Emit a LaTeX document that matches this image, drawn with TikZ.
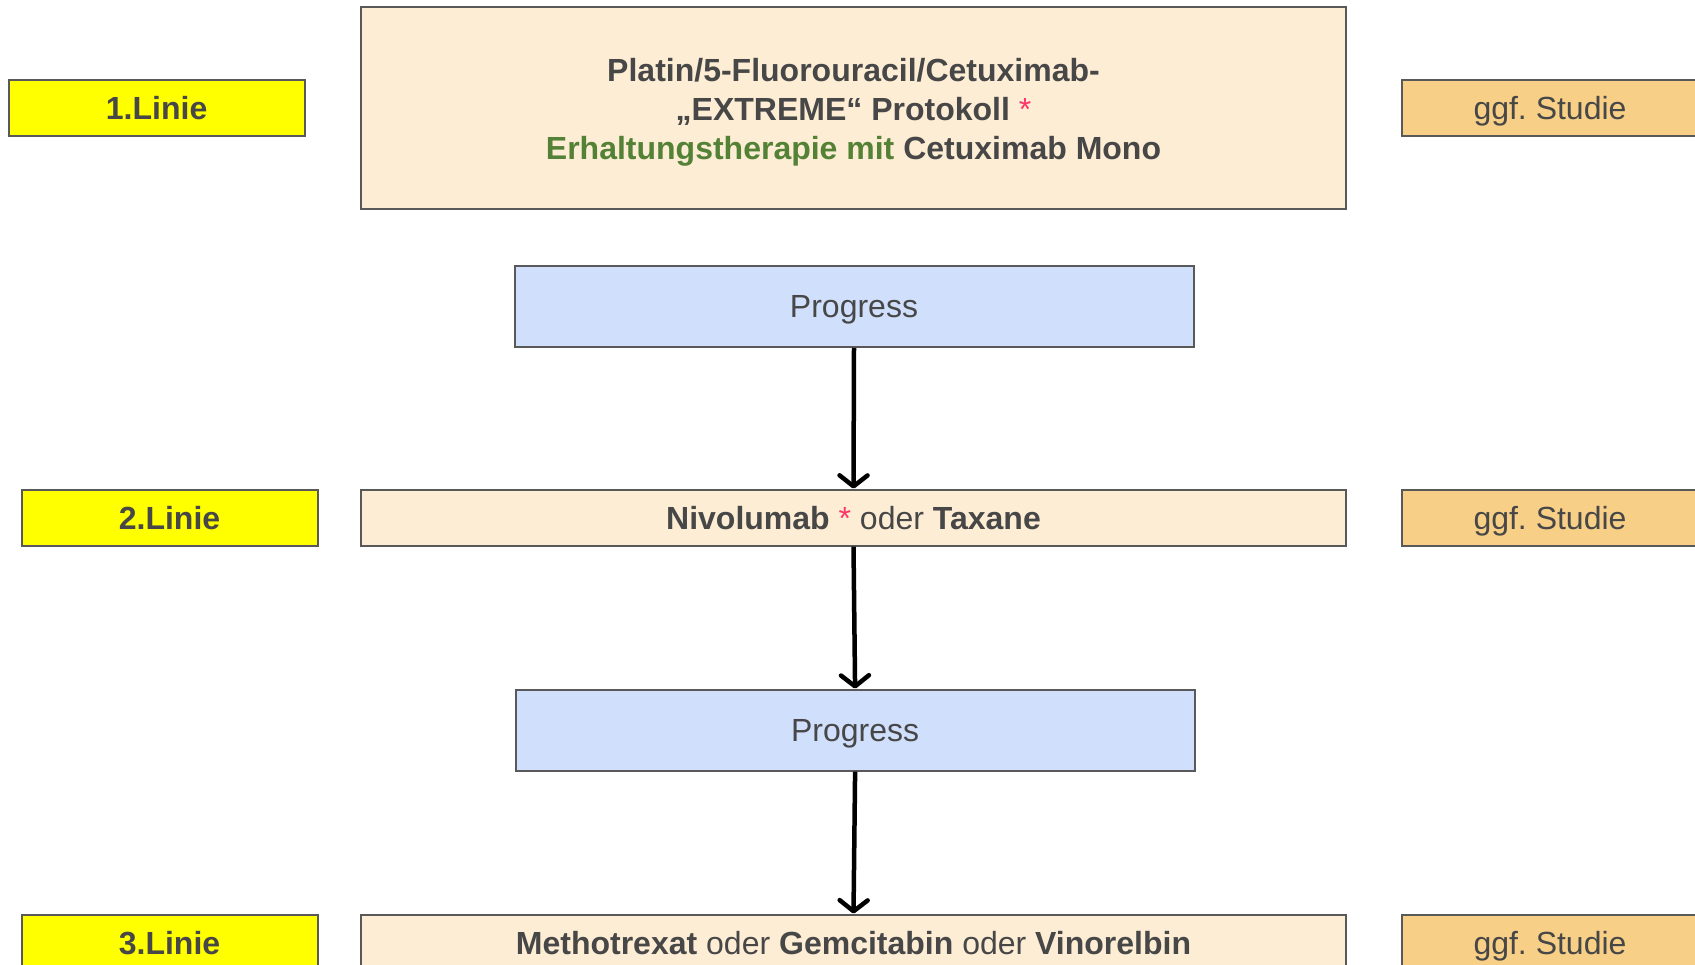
\documentclass[tikz,border=0pt]{standalone}
\usepackage{fontspec}
\setmainfont{Liberation Sans}
\usetikzlibrary{arrows.meta}
\frenchspacing
\definecolor{txt}{HTML}{474747}
\definecolor{bordc}{HTML}{595959}
\definecolor{yel}{HTML}{FFFF00}
\definecolor{cream}{HTML}{FDEDD5}
\definecolor{blueb}{HTML}{CFDFFC}
\definecolor{orng}{HTML}{F8CF86}
\definecolor{grn}{HTML}{538135}
\definecolor{ast}{HTML}{FF3366}
\tikzset{
  box/.style={draw=bordc, line width=2pt, anchor=north west, inner sep=0pt,
    text=txt, align=center, text depth=0pt, font=\fontsize{32}{39}\selectfont},
  linie/.style={box, fill=yel, minimum width=296pt, minimum height=56pt, font=\fontsize{32}{39}\selectfont\bfseries},
  studie/.style={box, fill=orng, minimum width=296pt, minimum height=56pt},
  therapy/.style={box, fill=cream, minimum width=985pt},
  progbox/.style={box, fill=blueb, minimum width=679pt, minimum height=81pt},
  flow/.style={line width=4.5pt, black, -{Straight Barb[length=11pt,width=28pt,line width=4.5pt,round]}}
}
\begin{document}
\begin{tikzpicture}[x=1pt,y=-1pt]
\useasboundingbox (0,0) rectangle (1695,965);
\node[linie] (l1) at (7.6,79) {1.Linie};
\node[therapy, minimum height=202pt] (t1) at (360,6.5) {\textbf{Platin/5-Fluorouracil/Cetuximab-}\\ \textbf{„EXTREME“ Protokoll} {\color{ast}*}\\ \textbf{\color{grn}Erhaltungstherapie mit} \textbf{Cetuximab Mono}};
\node[studie] (s1) at (1401,79) {ggf. Studie};
\node[progbox] (p1) at (513.5,265) {Progress};
\node[linie] (l2) at (20.5,488.6) {2.Linie};
\node[therapy, minimum height=56pt] (t2) at (360,488.6) {\textbf{Nivolumab} {\color{ast}*} oder \textbf{Taxane}};
\node[studie] (s2) at (1401,488.6) {ggf. Studie};
\node[progbox] (p2) at (514.6,688.6) {Progress};
\node[linie] (l3) at (20.5,913.5) {3.Linie};
\node[therapy, minimum height=56pt] (t3) at (360,913.5) {\textbf{Methotrexat} oder \textbf{Gemcitabin} oder \textbf{Vinorelbin}};
\node[studie] (s3) at (1401,913.5) {ggf. Studie};
\draw[flow] (p1.south) -- (t2.north);
\draw[flow] (t2.south) -- (p2.north);
\draw[flow] (p2.south) -- (t3.north);
\end{tikzpicture}
\end{document}
